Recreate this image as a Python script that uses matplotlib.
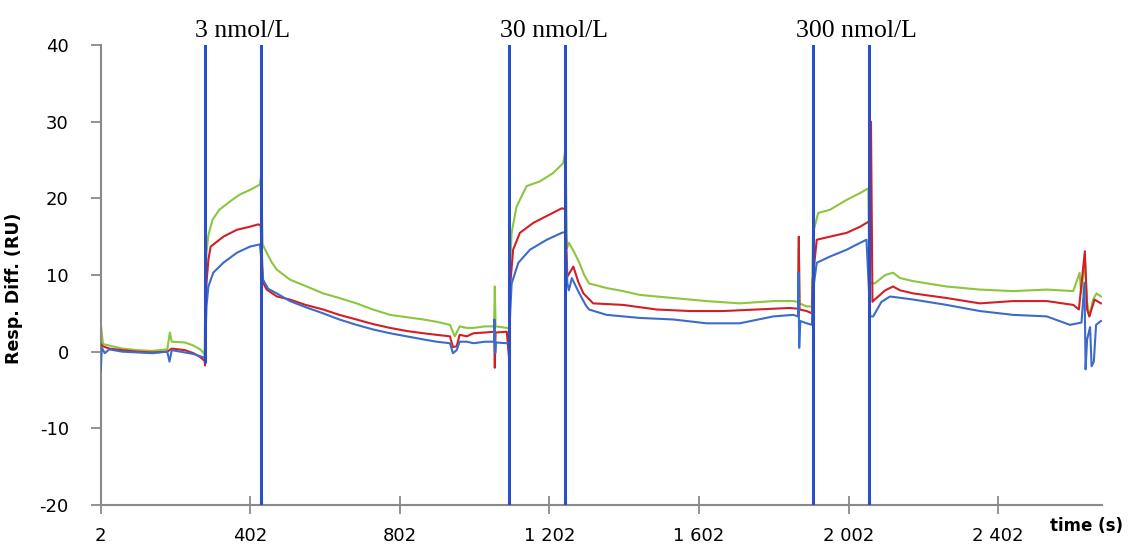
import matplotlib
matplotlib.use("Agg")
import matplotlib.pyplot as plt
import numpy as np

plt.rcParams["axes.unicode_minus"] = False

# time (s) and response (RU)
green_t = [2, 8, 25, 60, 100, 140, 180, 187, 192, 227, 250, 268, 280, 282, 285, 290, 301, 319, 348, 374, 401, 428, 431,
           435, 446, 460, 473, 508, 553, 597, 640, 686, 730, 776, 820, 865, 900, 936, 949, 962, 981, 999, 1030, 1054,
           1056, 1058, 1088, 1094, 1096, 1101, 1114, 1141, 1176, 1212, 1239, 1245, 1249, 1254, 1268, 1282, 1295, 1308,
           1355, 1399, 1444, 1533, 1622, 1711, 1801, 1854, 1867, 1869, 1871, 1890, 1904, 1907, 1921, 1952, 1997, 2033,
           2055, 2058, 2072, 2100, 2121, 2140, 2175, 2264, 2353, 2442, 2532, 2603, 2620, 2624, 2634, 2640, 2646, 2656,
           2665, 2677]
green = [3.8, 1.0, 0.8, 0.4, 0.2, 0.1, 0.3, 2.5, 1.3, 1.2, 0.8, 0.3, -0.3, 9.0, 13.0, 15.2, 17.2, 18.5, 19.6, 20.5, 21.1,
         21.8, 23.0, 14.0, 12.9, 11.6, 10.7, 9.4, 8.5, 7.6, 7.0, 6.3, 5.5, 4.8, 4.5, 4.2, 3.9, 3.5, 2.0, 3.3, 3.1, 3.1,
         3.3, 3.3, 8.5, 3.3, 3.1, 3.0, 10.0, 15.5, 18.9, 21.6, 22.2, 23.3, 24.6, 26.3, 13.5, 14.2, 13.0, 11.6, 10.0, 8.9,
         8.3, 7.9, 7.4, 7.0, 6.6, 6.3, 6.6, 6.6, 6.5, 13.5, 6.3, 5.9, 5.9, 15.5, 18.1, 18.5, 19.8, 20.7, 21.3, 9.0, 8.9,
         10.0, 10.3, 9.6, 9.2, 8.5, 8.1, 7.9, 8.1, 7.9, 10.3, 7.6, 12.0, 6.5, 4.6, 6.8, 7.6, 7.2]

red_t = [2, 8, 25, 60, 100, 140, 180, 192, 227, 250, 268, 280, 281, 283, 285, 290, 296, 330, 366, 401, 423, 430, 436,
         446, 473, 508, 550, 597, 640, 686, 730, 776, 820, 865, 900, 936, 944, 954, 962, 981, 999, 1030, 1054, 1056,
         1058, 1088, 1094, 1096, 1105, 1123, 1159, 1195, 1235, 1244, 1250, 1266, 1280, 1293, 1319, 1399, 1489, 1578,
         1667, 1756, 1845, 1867, 1869, 1871, 1890, 1904, 1906, 1917, 1952, 1997, 2033, 2050, 2058, 2062, 2066, 2072,
         2100, 2121, 2140, 2175, 2264, 2353, 2442, 2532, 2603, 2618, 2634, 2640, 2646, 2660, 2677]
red = [1.0, 0.7, 0.4, 0.2, 0.0, -0.1, 0.0, 0.4, 0.2, -0.2, -0.7, -1.2, -1.8, 5.0, 9.0, 12.0, 13.7, 15.0, 15.9, 16.3,
       16.6, 16.5, 9.0, 8.1, 7.2, 6.8, 6.1, 5.5, 4.8, 4.2, 3.6, 3.1, 2.7, 2.4, 2.2, 2.0, 0.6, 0.7, 2.2, 2.0, 2.4, 2.5,
       2.6, -2.1, 2.5, 2.6, -0.8, 8.0, 13.3, 15.5, 16.8, 17.7, 18.7, 18.6, 9.8, 11.1, 9.0, 7.6, 6.3, 6.1, 5.5, 5.3, 5.3,
       5.5, 5.7, 5.6, 15.0, 5.5, 5.3, 5.0, 9.4, 14.6, 15.0, 15.5, 16.3, 16.8, 17.0, 30.0, 6.5, 6.8, 8.0, 8.5, 8.0, 7.6,
       7.0, 6.3, 6.6, 6.6, 6.1, 5.5, 13.1, 5.5, 4.6, 6.8, 6.3]

blue_t = [2, 5, 13, 25, 60, 100, 140, 180, 186, 192, 227, 250, 268, 280, 283, 285, 290, 303, 330, 366, 401, 428, 436,
          450, 473, 508, 550, 597, 640, 686, 730, 776, 820, 865, 900, 936, 944, 954, 962, 981, 999, 1030, 1054, 1055,
          1057, 1059, 1088, 1094, 1097, 1101, 1119, 1150, 1195, 1235, 1244, 1250, 1254, 1262, 1282, 1300, 1308, 1355,
          1444, 1533, 1622, 1711, 1801, 1854, 1867, 1868, 1870, 1873, 1890, 1904, 1907, 1917, 1952, 1997, 2033, 2050,
          2060, 2068, 2090, 2113, 2175, 2264, 2353, 2442, 2532, 2594, 2625, 2633, 2636, 2640, 2648, 2652, 2658, 2664,
          2677]
blue = [-2.5, 0.5, -0.2, 0.3, 0.0, -0.1, -0.2, 0.0, -1.3, 0.2, -0.1, -0.3, -0.6, -0.8, 3.0, 6.0, 8.5, 10.3, 11.6, 12.9,
        13.7, 14.0, 9.4, 8.2, 7.6, 6.6, 5.8, 5.0, 4.2, 3.5, 2.9, 2.4, 2.0, 1.6, 1.3, 1.1, -0.2, 0.2, 1.3, 1.3, 1.1, 1.3,
        1.3, 4.2, -0.2, 1.2, 1.1, 1.0, 5.0, 8.9, 11.6, 13.3, 14.6, 15.5, 15.6, 8.9, 8.0, 9.6, 7.6, 6.0, 5.5, 4.8, 4.4,
        4.2, 3.7, 3.7, 4.6, 4.8, 4.6, 10.3, 0.5, 4.0, 3.7, 3.5, 8.0, 11.6, 12.4, 13.3, 14.2, 14.6, 4.6, 4.6, 6.5, 7.2,
        6.8, 6.1, 5.3, 4.8, 4.6, 3.5, 3.8, 9.0, -2.3, 1.6, 3.2, -1.9, -1.3, 3.5, 4.0]

# injection start/stop artefacts (bottom of each spike, all reach past the top)
inj_t = [281, 431, 1095, 1245, 1906, 2056]
inj_lo = [-1.5, -20, -20, -20, -20, -20]

conc_labels = ["3 nmol/L", "30 nmol/L", "300 nmol/L"]
conc_x = [382, 1214, 2023]

xticks = [2, 402, 802, 1202, 1602, 2002, 2402]
xtick_labels = ["2", "402", "802", "1 202", "1 602", "2 002", "2 402"]
yticks = [-20, -10, 0, 10, 20, 30, 40]

axis_grey = "#8a8a8a"

fig = plt.figure(figsize=(11.29, 5.45), dpi=100)
ax = fig.add_axes([0.0892, 0.0734, 0.8866, 0.844])

ax.plot(green_t, green, color="#8cc63e", lw=1.5, zorder=2)
ax.plot(red_t, red, color="#d21f26", lw=1.5, zorder=3)
ax.plot(blue_t, blue, color="#3b6cc8", lw=1.5, zorder=4)
ax.vlines(inj_t, inj_lo, 45, color="#2b4fc4", lw=2.2, zorder=5)

ax.set_xlim(2, 2679)
ax.set_ylim(-20, 40)
ax.set_xticks(xticks)
ax.set_xticklabels(xtick_labels)
ax.set_yticks(yticks)

for s in ["top", "right"]:
    ax.spines[s].set_visible(False)
for s in ["left", "bottom"]:
    ax.spines[s].set_color(axis_grey)
    ax.spines[s].set_linewidth(1.5)

ax.tick_params(axis="x", direction="inout", length=13, width=1.3, color=axis_grey, pad=9, labelsize=13)
ax.tick_params(axis="y", direction="out", length=7, width=1.3, color=axis_grey, pad=16, labelsize=13)

ax.set_ylabel("Resp. Diff. (RU)", fontsize=12.5, fontweight="bold", labelpad=10)
ax.yaxis.set_label_coords(-0.078, 0.47)
ax.text(0.985, -0.045, "time (s)", transform=ax.transAxes, ha="center", va="center",
        fontsize=12, fontweight="bold")

for lab, xp in zip(conc_labels, conc_x):
    ax.text(xp, 1.017, lab, transform=ax.get_xaxis_transform(), ha="center", va="baseline",
            fontsize=18.5, family="Liberation Serif")

fig.savefig("out.png", dpi=100)
